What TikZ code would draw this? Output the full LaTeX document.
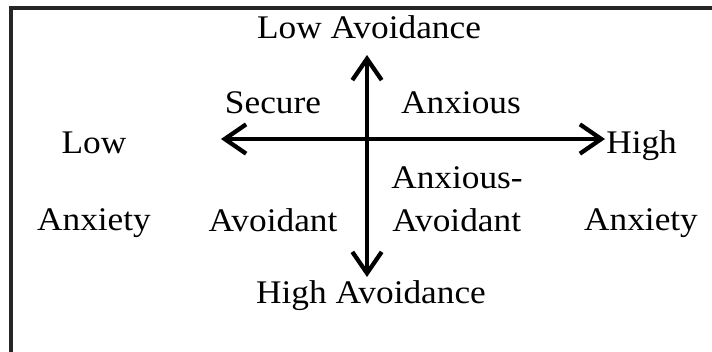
\documentclass[tikz,border=0pt]{standalone}
\usepackage{fontspec}
\setmainfont{Liberation Serif}
\usetikzlibrary{arrows.meta}
\tikzset{
  lbl/.style={anchor=base, inner sep=0pt, font=\fontsize{24.75}{28}\selectfont},
  axis/.style={line width=3.2pt, draw=black, {Straight Barb[length=16pt,width=22pt,line width=3.2pt]}-{Straight Barb[length=16pt,width=22pt,line width=3.2pt]}},
  frame/.style={line width=2.4pt, draw=black!85}
}
\newcommand{\sx}[1]{\scalebox{1.07}[1]{#1}}
\begin{document}
\begin{tikzpicture}[x=0.75pt,y=-0.75pt]
\useasboundingbox (0,0) rectangle (712,351);
\clip (0,0) rectangle (712,351);
\draw[frame] (11,400) -- (11,8) -- (760,8);
% axes
\coordinate (vt) at (367,55);
\coordinate (vb) at (367,277);
\coordinate (hl) at (221,139);
\coordinate (hr) at (605,139);
\draw[axis] (vb) -- (vt);
\draw[axis] (hl) -- (hr);
% labels
\node[lbl] (lowav) at (369,38) {\sx{Low Avoidance}};
\node[lbl] (highav) at (371,303) {\sx{High Avoidance}};
\node[lbl] (low) at (94,153) {\sx{Low}};
\node[lbl] (anxl) at (94,230) {\sx{Anxiety}};
\node[lbl, anchor=base west] (high) at (606,153) {\sx{High}};
\node[lbl] (anxr) at (641,230) {\sx{Anxiety}};
\node[lbl] (secure) at (273,113) {\sx{Secure}};
\node[lbl] (anxious) at (461,113) {\sx{Anxious}};
\node[lbl, anchor=base west] (anxav1) at (391,188) {\sx{Anxious-}};
\node[lbl, anchor=base west] (anxav2) at (392,231) {\sx{Avoidant}};
\node[lbl] (avoid) at (273,231) {\sx{Avoidant}};
\end{tikzpicture}
\end{document}
